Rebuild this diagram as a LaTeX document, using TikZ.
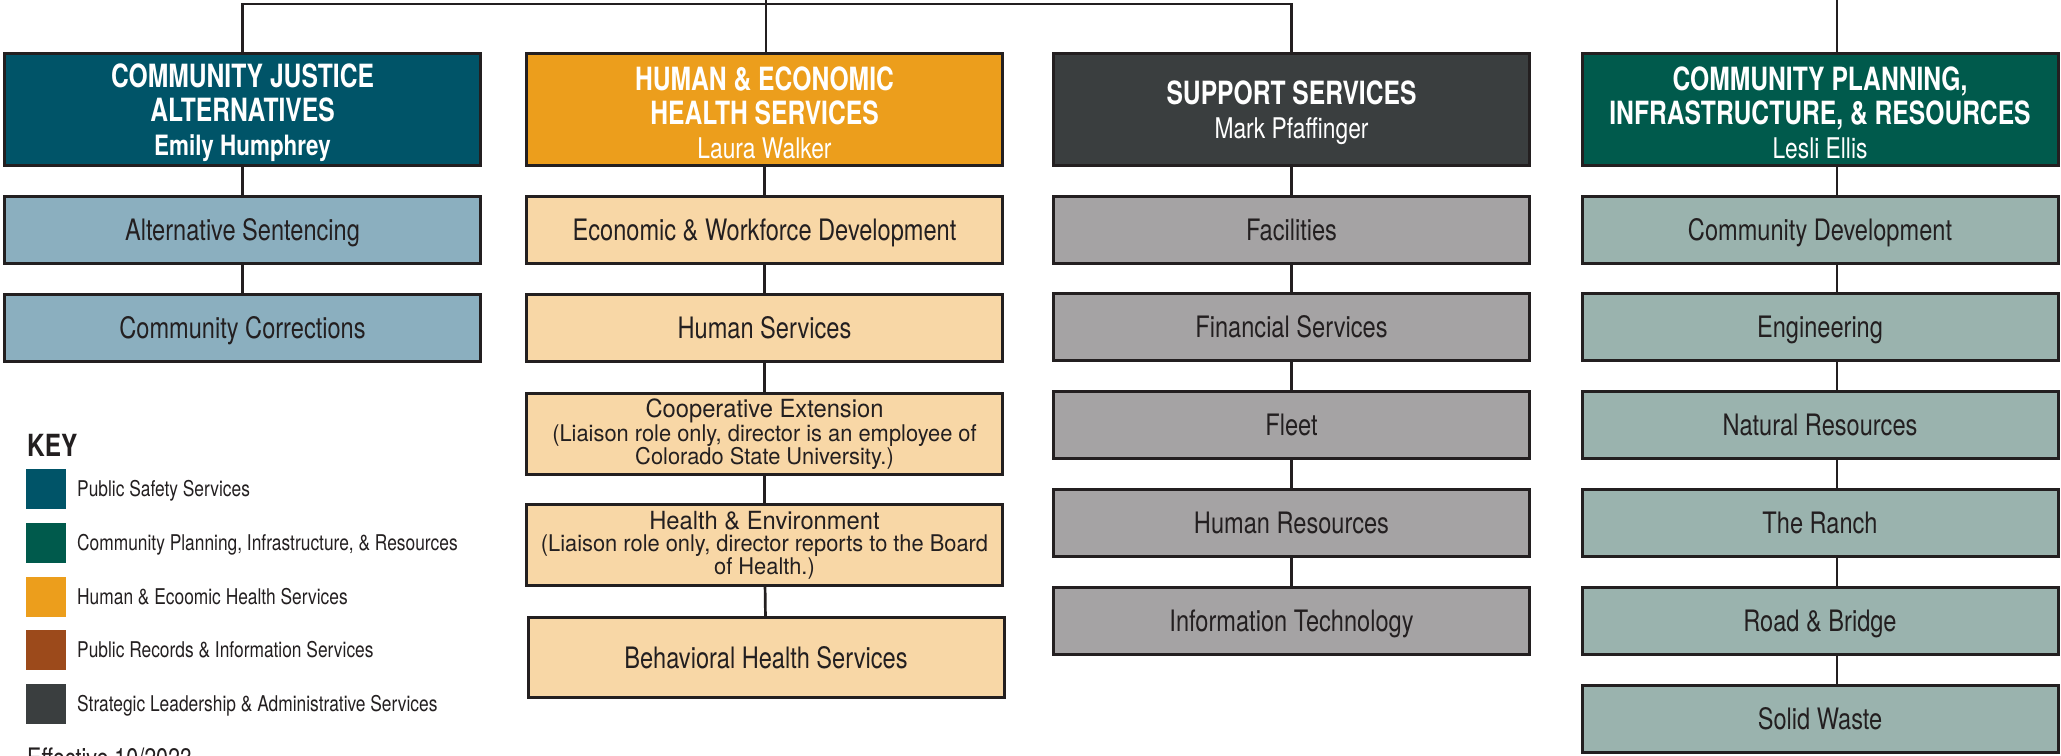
\documentclass[tikz,border=0pt]{standalone}
\usepackage{fontspec}
\setmainfont{TeX Gyre Heros}[FakeStretch=0.8]
\newfontfamily\hdfont{TeX Gyre Heros}[FakeStretch=0.77]
\newfontfamily\ntfont{TeX Gyre Heros}[FakeStretch=0.95]
\definecolor{ink}{HTML}{231F20}
\definecolor{pss}{HTML}{005468}
\definecolor{cpr}{HTML}{005A4C}
\definecolor{heh}{HTML}{EC9E1C}
\definecolor{prs}{HTML}{9C4A1B}
\definecolor{sla}{HTML}{3A3E3F}
\definecolor{psslt}{HTML}{8BAFBF}
\definecolor{hehlt}{HTML}{F8D7A6}
\definecolor{slalt}{HTML}{A5A3A4}
\definecolor{cprlt}{HTML}{9AB3AE}
\begin{document}
\begin{tikzpicture}[x=1pt,y=-1pt,
 link/.style={draw=ink,line width=2.7pt},
 head/.style={draw=ink,line width=3pt,text=white,minimum width=476pt,minimum height=112pt,inner sep=0pt,align=center,font=\hdfont\bfseries\fontsize{32}{34}\selectfont},
 unit/.style={draw=ink,line width=3pt,text=ink,minimum width=476pt,minimum height=67pt,inner sep=0pt,font=\fontsize{29.5}{32}\selectfont,text height=21pt,text depth=0pt},
 note/.style={draw=ink,line width=3pt,text=ink,minimum width=476pt,minimum height=81pt,inner sep=0pt,align=center,font=\ntfont\fontsize{23}{22.5}\selectfont},
 swatch/.style={minimum size=40pt,inner sep=0pt},
 keytxt/.style={anchor=base west,text=ink,inner sep=0pt,font=\fontsize{21.7}{24}\selectfont}]
\useasboundingbox (0,0) rectangle (2061,755);
\clip (0,0) rectangle (2061,755);
% Các khối trưởng ban
\node[head,fill=pss] (cja) at (242.5,109.5) {\rule{0pt}{31pt}COMMUNITY JUSTICE\\ALTERNATIVES\\{\rmfamily\fontsize{28}{34}\selectfont Emily Humphrey}};
\node[head,fill=heh] (hehs) at (764.5,109.5) {\rule{0pt}{31pt}HUMAN \& ECONOMIC\\HEALTH SERVICES\\{\rmfamily\mdseries\fontsize{28.5}{34}\selectfont Laura Walker}};
\node[head,fill=sla] (sup) at (1291.5,109.5) {\rule{0pt}{31pt}SUPPORT SERVICES\\{\rmfamily\mdseries\fontsize{28.5}{34}\selectfont Mark Pfaffinger}};
\node[head,fill=cpr] (cpi) at (1820,109.5) {\rule{0pt}{31pt}COMMUNITY PLANNING,\\INFRASTRUCTURE, \& RESOURCES\\{\rmfamily\mdseries\fontsize{28.5}{34}\selectfont Lesli Ellis}};
% Đường nối lên trên
\coordinate (bus) at (766,4);
\coordinate (up2) at (766,0);
\coordinate (up4) at (1837,0);
\draw[link] (cja) |- (bus) -| (sup);
\draw[link] (up2) -- (up2 |- hehs.north);
\draw[link] (up4) -- (up4 |- cpi.north);
% Cột 1
\node[unit,fill=psslt] (a1) at (242.5,229.5) {Alternative Sentencing};
\node[unit,fill=psslt] (a2) at (242.5,328) {Community Corrections};
\draw[link] (cja) -- (a1); \draw[link] (a1) -- (a2);
% Cột 2
\node[unit,fill=hehlt] (b1) at (764.5,229.5) {Economic \& Workforce Development};
\node[unit,fill=hehlt] (b2) at (764.5,328) {Human Services};
\node[note,fill=hehlt] (b3) at (764.5,434) {{\fontsize{25}{22.5}\selectfont Cooperative Extension}\\[2pt](Liaison role only, director is an employee of\\Colorado State University.)};
\node[note,fill=hehlt] (b4) at (764.5,545) {{\fontsize{25}{22.5}\selectfont Health \& Environment}\\(Liaison role only, director reports to the Board\\of Health.)};
\node[unit,fill=hehlt,minimum height=80pt] (b5) at (766,657.5) {Behavioral Health Services};
\draw[link] (hehs) -- (b1);
\foreach \i/\j in {1/2,2/3,3/4,4/5}
\draw[link] (b\i) -- (b\j);
% Cột 3
\foreach \t [count=\i] in {Facilities,Financial Services,Fleet,Human Resources,Information Technology}
\node[unit,fill=slalt] (c\i) at (1291.5,{229.5+97.9*(\i-1)}) {\t};
\draw[link] (sup) -- (c1);
\foreach \i/\j in {1/2,2/3,3/4,4/5}
\draw[link] (c\i) -- (c\j);
% Cột 4
\foreach \t [count=\i] in {Community Development,Engineering,Natural Resources,The Ranch,Road \& Bridge,Solid Waste}
\node[unit,fill=cprlt] (d\i) at (1820,{229.5+97.9*(\i-1)}) {\t};
\draw[link] (cpi.south -| up4) -- (d1.north -| up4);
\foreach \i/\j in {1/2,2/3,3/4,4/5,5/6}
\draw[link] (d\i.south -| up4) -- (d\j.north -| up4);
% Chú thích
\node[anchor=base west,text=ink,inner sep=0pt,font=\bfseries\fontsize{30.5}{32}\selectfont] (key) at (27,456) {KEY};
\foreach \c/\y/\t in {pss/489/Public Safety Services,cpr/543/{Community Planning, Infrastructure, \& Resources},heh/597/Human \& Ecoomic Health Services,prs/650/Public Records \& Information Services,sla/704/Strategic Leadership \& Administrative Services}{
\node[swatch,fill=\c] (sw\c) at (46,\y) {};
\node[keytxt] (kt\c) at (77,{\y+7.5}) {\t};
}
\node[keytxt,font=\fontsize{26.8}{28}\selectfont] (eff) at (27,767) {Effective 10/2023};
\end{tikzpicture}
\end{document}
